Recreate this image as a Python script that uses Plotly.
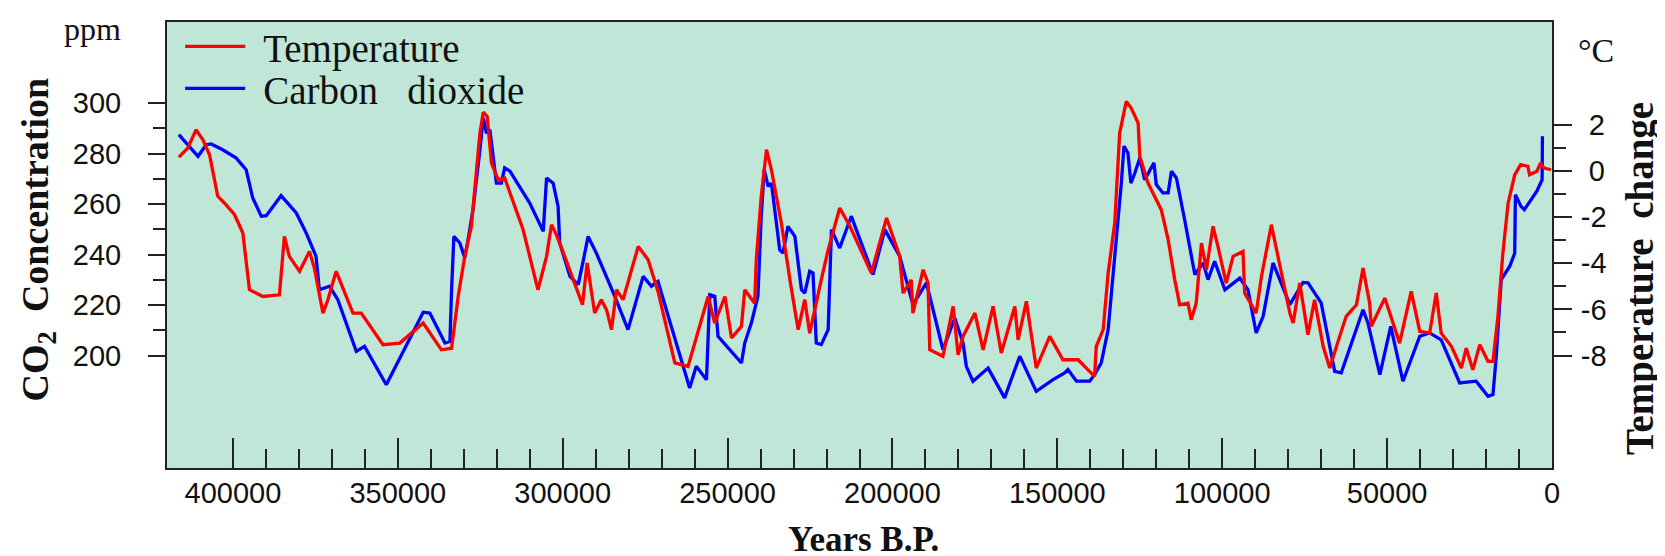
import plotly.graph_objects as go

# ---- data ----
co2_years = [416400, 410600, 408100, 406600, 403100, 399000, 396000, 394000, 391400, 389900,
             385400, 380800, 377800, 374800, 373800, 370700, 368200, 362600, 360100, 356600,
             353500, 342300, 340300, 335700, 334200, 333700, 333000, 331200, 329700, 328700,
             327200, 325100, 324100, 323100, 322100, 320100, 318600, 317600, 316000, 310000,
             305900, 304900, 302900, 301400, 300900, 297800, 295300, 293800, 292300, 289800,
             284200, 280200, 275600, 273100, 271100, 268000, 264500, 261500, 259500, 256400,
             255400, 253900, 252900, 245800, 244800, 242800, 240800, 239800, 238900, 237700,
             236700, 234200, 233200, 231700, 229600, 227600, 226600, 225100, 224100, 223100,
             221600, 219500, 218500, 216000, 212500, 209900, 205900, 202300, 197800, 193800,
             189700, 184700, 181100, 178600, 177600, 175600, 171000, 166000, 161400, 156400,
             151300, 147800, 146800, 144200, 140200, 138700, 136700, 134600, 133100, 131600,
             130600, 129800, 128600, 127700, 126500, 125000, 123500, 120700, 120000, 118000,
             116400, 115400, 113900, 111400, 108300, 105800, 104300, 102300, 99200, 94700,
             92200, 89700, 87600, 84600, 82100, 79500, 75500, 74000, 70000, 65900,
             63900, 57300, 55800, 52200, 48900, 45200, 40100, 37100, 33600, 28000,
             23000, 19400, 17900, 16900, 15400, 12800, 11300, 11100, 9400, 8400,
             4600, 3000, 2900]
co2_ppm = [287.5, 278.9, 283.5, 283.8, 281.5, 278.2, 273.6, 262.4, 255.2, 255.4,
           263.3, 256.5, 248.6, 239.3, 226.1, 227.5, 222.2, 201.7, 203.7, 195.8,
           188.5, 217.2, 216.9, 205.0, 205.7, 226.1, 247.2, 244.6, 238.7, 245.9,
           257.8, 281.5, 294.1, 288.1, 289.4, 268.3, 268.3, 274.3, 273.0, 260.4,
           249.2, 270.3, 268.3, 259.1, 244.6, 231.4, 228.1, 237.4, 247.2, 240.6,
           223.5, 210.3, 231.4, 227.5, 229.4, 215.6, 199.8, 187.2, 195.8, 190.5,
           224.1, 223.5, 207.7, 197.1, 205.0, 212.9, 223.5, 255.2, 273.6, 267.0,
           268.3, 241.9, 240.6, 251.2, 247.2, 226.1, 224.8, 233.4, 232.7, 205.0,
           204.4, 210.3, 249.9, 242.6, 255.2, 245.9, 232.1, 249.9, 239.3, 220.2,
           228.8, 202.4, 214.9, 205.0, 195.8, 189.9, 195.1, 183.3, 199.8, 185.9,
           190.5, 193.2, 194.5, 189.9, 189.9, 192.5, 197.1, 210.3, 231.4, 252.5,
           268.3, 282.9, 280.2, 268.3, 272.3, 278.2, 269.6, 276.3, 267.7, 264.4,
           264.4, 273.0, 270.3, 253.8, 232.1, 236.7, 230.1, 237.4, 226.1, 230.7,
           226.1, 209.0, 215.6, 236.7, 228.8, 220.2, 229.0, 228.8, 220.9, 193.8,
           193.2, 218.2, 212.9, 192.5, 211.6, 189.9, 207.7, 209.0, 206.3, 189.2,
           189.9, 183.9, 184.6, 199.8, 230.1, 235.4, 240.6, 263.7, 259.1, 257.8,
           265.1, 269.6, 286.8]

temp_years = [416400, 413700, 411200, 409100, 407100, 404600, 402600, 399500, 397000, 395000,
              393000, 390900, 385900, 384400, 382900, 379800, 376800, 375300, 372700, 371200,
              368700, 363600, 361100, 354500, 349400, 342300, 336800, 333700, 331700, 329700,
              327700, 325100, 324100, 322900, 321600, 319600, 317600, 312000, 307500, 304900,
              303400, 301900, 299400, 295800, 294000, 292600, 290300, 288300, 286700, 285200,
              283700, 281700, 277100, 274100, 271100, 266000, 262000, 255900, 253900, 250800,
              248800, 245800, 244800, 241800, 241300, 239800, 238200, 236700, 233700, 231100,
              228600, 226600, 225100, 221600, 219500, 216000, 212900, 206400, 204400, 201800,
              197800, 196800, 194300, 193800, 190700, 189200, 188700, 184700, 181600, 180100,
              178600, 175000, 172500, 169500, 167000, 162900, 161900, 159400, 156400, 152300,
              148300, 143700, 140700, 138700, 138200, 136100, 134600, 132600, 131100, 129100,
              127600, 125500, 125000, 122500, 118500, 116400, 114400, 112900, 110400, 109400,
              107900, 106300, 104800, 102800, 101300, 98800, 96700, 93700, 93200, 89700,
              88100, 85100, 83100, 79500, 78500, 76500, 74000, 72000, 69400, 67400,
              64400, 62400, 59300, 57300, 55300, 54800, 50700, 46200, 42700, 40100,
              37100, 35100, 33600, 30500, 27500, 26000, 24000, 21900, 19400, 17900,
              16400, 14900, 13300, 11300, 9500, 7300, 6800, 4600, 3500, 2400, 300]
temp_change = [0.60, 0.99, 1.78, 1.35, 0.70, -1.10, -1.39, -1.90, -2.69, -5.15,
               -5.29, -5.44, -5.37, -2.84, -3.70, -4.35, -3.49, -4.21, -6.16, -5.58,
               -4.35, -6.16, -6.16, -7.53, -7.46, -6.59, -7.75, -7.68, -5.44, -3.70,
               -2.40, 1.64, 2.54, 2.36, 0.34, -0.38, -0.31, -2.55, -5.15, -3.70,
               -2.33, -2.77, -3.70, -5.15, -5.80, -3.99, -6.16, -5.58, -6.02, -6.88,
               -5.15, -5.58, -3.27, -3.85, -5.22, -8.32, -8.47, -5.44, -6.59, -5.44,
               -7.24, -6.73, -5.15, -5.73, -3.85, -1.10, 0.92, 0.05, -2.26, -4.72,
               -6.88, -5.58, -7.03, -4.72, -3.42, -1.61, -2.40, -4.43, -3.42, -2.04,
               -3.70, -5.29, -4.72, -6.16, -4.28, -4.86, -7.75, -8.03, -5.87, -7.97,
               -7.17, -6.16, -7.75, -5.87, -7.89, -5.87, -7.32, -5.65, -8.54, -7.17,
               -8.18, -8.18, -8.62, -8.90, -7.60, -6.88, -4.43, -2.26, 1.64, 3.01,
               2.72, 2.07, 0.63, -0.53, -1.68, -2.98, -4.72, -5.80, -5.73, -6.45,
               -5.73, -3.13, -4.28, -2.40, -3.27, -4.86, -3.70, -3.49, -5.29, -6.16,
               -4.57, -2.33, -3.70, -6.16, -6.59, -4.86, -7.10, -5.58, -7.60, -8.54,
               -7.17, -6.30, -5.80, -4.21, -5.73, -6.73, -5.51, -7.46, -5.22, -6.95,
               -7.03, -5.29, -7.03, -7.60, -8.54, -7.68, -8.62, -7.53, -8.25, -8.25,
               -6.30, -3.56, -1.39, -0.17, 0.27, 0.20, -0.17, -0.02, 0.34, 0.12, 0.05]

x_major = [400000, 350000, 300000, 250000, 200000, 150000, 100000, 50000, 0]
x_minor = [390000, 380000, 370000, 360000, 340000, 330000, 320000, 310000,
           290000, 280000, 270000, 260000, 240000, 230000, 220000, 210000,
           190000, 180000, 170000, 160000, 140000, 130000, 120000, 110000,
           90000, 80000, 70000, 60000, 40000, 30000, 20000, 10000]
ppm_major = [200, 220, 240, 260, 280, 300]
ppm_minor = [210, 230, 250, 270, 290]
degc_major = [-8, -6, -4, -2, 0, 2]
degc_minor = [-7, -5, -3, -1, 1]

# ---- figure ----
tick_font = dict(family="Liberation Sans, Arial, sans-serif", size=29, color="#111")
serif = "Liberation Serif, Times New Roman, serif"
legend_font = dict(family=serif, size=39, color="#111")

fig = go.Figure()
fig.add_trace(go.Scatter(x=temp_years, y=temp_change, name="\u2004Temperature", mode="lines",
                         line=dict(color="#FF0000", width=3.3), yaxis="y2", legend="legend"))
fig.add_trace(go.Scatter(x=co2_years, y=co2_ppm, name="\u2004Carbon\u00a0\u00a0\u00a0dioxide", mode="lines",
                         line=dict(color="#0000FF", width=3.3), yaxis="y", legend="legend2"))

axis_line = dict(showline=True, linecolor="#222", linewidth=2, showgrid=False, zeroline=False)

fig.update_layout(
    width=1665, height=556,
    margin=dict(l=159, r=121, t=14, b=96, autoexpand=False),
    paper_bgcolor="white", plot_bgcolor="#BFE6D7",
    showlegend=True,
    legend=dict(x=0.0095, y=0.945, xanchor="left", yanchor="middle", bgcolor="rgba(0,0,0,0)",
                font=legend_font, itemwidth=60),
    legend2=dict(x=0.0095, y=0.851, xanchor="left", yanchor="middle", bgcolor="rgba(0,0,0,0)",
                 font=legend_font, itemwidth=60),
    xaxis=dict(range=[420000, 0], tickmode="array", tickvals=x_major,
               ticktext=[str(v) for v in x_major], ticks="inside", ticklen=30, tickwidth=2,
               tickcolor="#222", tickfont=tick_font, mirror=True, ticklabelstandoff=-2,
               minor=dict(tickmode="array", tickvals=x_minor, ticks="inside", ticklen=19,
                          tickwidth=2, tickcolor="#222"),
               **axis_line),
    yaxis=dict(range=[155.56, 332.05], tickmode="array", tickvals=ppm_major,
               ticks="outside", ticklen=17, tickwidth=2, tickcolor="#222", tickfont=tick_font,
               mirror=True, ticklabelstandoff=21,
               minor=dict(tickmode="array", tickvals=ppm_minor, ticks="outside", ticklen=12,
                          tickwidth=2, tickcolor="#222"),
               **axis_line),
    yaxis2=dict(range=[-12.87, 6.45], overlaying="y", side="right", tickmode="array",
                tickvals=degc_major, ticktext=[("\u2008" + str(v)) if v >= 0 else str(v) for v in degc_major],
                ticks="outside", ticklen=18, tickwidth=2, tickcolor="#222", tickfont=tick_font,
                ticklabelstandoff=3,
                minor=dict(tickmode="array", tickvals=degc_minor, ticks="outside", ticklen=12,
                           tickwidth=2, tickcolor="#222"),
                **axis_line),
)

fig.add_annotation(text="<b>CO<sub>2</sub>\u00a0\u00a0Concentration</b>", xref="paper", yref="paper",
                   x=-0.093, y=0.513, xanchor="center", yanchor="middle", textangle=-90,
                   showarrow=False, font=dict(family=serif, size=38, color="#111"))
fig.add_annotation(text="<b>Temperature\u00a0\u00a0change</b>", xref="paper", yref="paper",
                   x=1.0635, y=0.426, xanchor="center", yanchor="middle", textangle=-90,
                   showarrow=False, font=dict(family=serif, size=39, color="#111"))
fig.add_annotation(text="<b>Years B.P.</b>", xref="paper", yref="paper",
                   x=0.503, y=-0.2085, xanchor="center", yanchor="bottom",
                   showarrow=False, font=dict(family=serif, size=35, color="#111"))
fig.add_annotation(text="ppm", xref="paper", yref="paper",
                   x=-0.054, y=1.029, xanchor="center", yanchor="top",
                   showarrow=False, font=dict(family=serif, size=32, color="#111"))
fig.add_annotation(text="°C", xref="paper", yref="paper",
                   x=1.032, y=0.935, xanchor="center", yanchor="middle",
                   showarrow=False, font=dict(family=serif, size=34, color="#111"))

fig.write_html("out.html")
